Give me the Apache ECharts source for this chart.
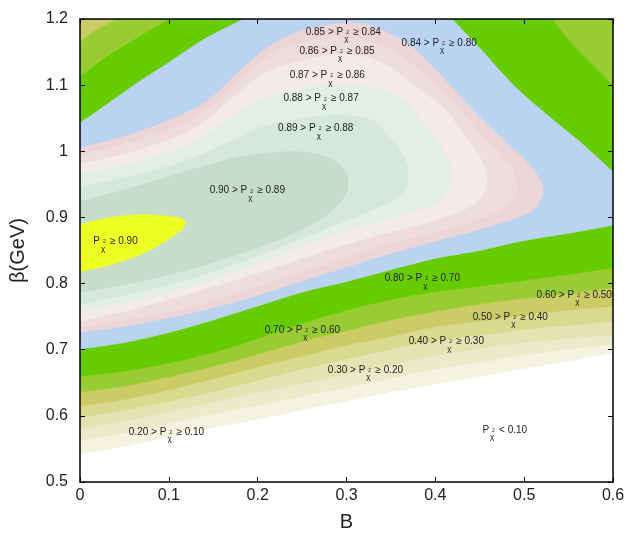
<!DOCTYPE html>
<html>
<head>
<meta charset="utf-8">
<script src="https://cdn.jsdelivr.net/npm/echarts@6/dist/echarts.min.js"></script>
<style>
html, body { margin: 0; background: #fff; }
#chart { width: 627px; height: 537px; }
</style>
</head>
<body>
<div id="chart"></div>
<script>
// contour levels of P(chi2) and the fill used for the band above each level
var levels = [0.10, 0.20, 0.30, 0.40, 0.50, 0.60, 0.70, 0.80, 0.84, 0.85, 0.86, 0.87, 0.88, 0.89, 0.90];
var bandColors = ['#f3f3e0', '#ebebcc', '#e3e3b4', '#d9d98f', '#cccc66', '#99cc33', '#66cc00', '#b9d3f1',
    '#ebd5d6', '#efdcdc', '#f4eaea', '#e3efe6', '#d6e8dc', '#c6ddc9', '#eeff22'];

// lower contours [B, beta]
var c10 = [[0,0.542],[0.05,0.554],[0.1,0.568],[0.15,0.582],[0.2,0.595],[0.25,0.609],[0.3,0.622],[0.35,0.636],[0.4,0.648],[0.45,0.660],[0.5,0.672],[0.55,0.683],[0.6,0.696]];
var c20 = [[0,0.562],[0.05,0.574],[0.1,0.588],[0.15,0.603],[0.2,0.616],[0.25,0.630],[0.3,0.643],[0.35,0.657],[0.4,0.671],[0.45,0.681],[0.5,0.692],[0.55,0.701],[0.6,0.708]];
var c30 = [[0,0.580],[0.05,0.592],[0.1,0.606],[0.15,0.621],[0.2,0.636],[0.25,0.649],[0.3,0.663],[0.35,0.677],[0.4,0.692],[0.45,0.702],[0.5,0.711],[0.55,0.717],[0.6,0.723]];
var c40 = [[0,0.598],[0.05,0.609],[0.1,0.622],[0.15,0.637],[0.2,0.654],[0.25,0.671],[0.3,0.686],[0.35,0.701],[0.4,0.714],[0.45,0.722],[0.5,0.731],[0.55,0.737],[0.6,0.743]];
var c50 = [[0,0.615],[0.05,0.625],[0.1,0.639],[0.15,0.656],[0.2,0.674],[0.25,0.690],[0.3,0.707],[0.35,0.720],[0.4,0.735],[0.45,0.743],[0.5,0.752],[0.55,0.760],[0.6,0.766]];
var c60 = [[0,0.636],[0.05,0.645],[0.1,0.659],[0.15,0.675],[0.2,0.693],[0.25,0.713],[0.3,0.729],[0.35,0.745],[0.4,0.758],[0.45,0.769],[0.5,0.778],[0.55,0.785],[0.6,0.794]];
var c70 = [[0,0.660],[0.05,0.668],[0.1,0.680],[0.15,0.696],[0.2,0.717],[0.25,0.740],[0.3,0.760],[0.35,0.776],[0.4,0.788],[0.45,0.796],[0.5,0.805],[0.55,0.814],[0.6,0.824]];
var c80 = [[0,0.701],[0.05,0.711],[0.1,0.726],[0.15,0.745],[0.2,0.766],[0.25,0.787],[0.3,0.803],[0.35,0.821],[0.4,0.838],[0.45,0.850],[0.5,0.865],[0.55,0.876],[0.6,0.888]];

// upper contours in the top corners
var u60 = [[0,1.165],[0.017,1.182],[0.043,1.2]];
var u70 = [[0,1.113],[0.034,1.146],[0.068,1.174],[0.101,1.2]];
var u80 = [[0,1.043],[0.026,1.067],[0.064,1.103],[0.101,1.135],[0.138,1.168],[0.184,1.2]];
var u70r = [[0.6,1.100],[0.574,1.135],[0.552,1.165],[0.531,1.2]];
var u80r = [[0.6,0.969],[0.563,1.014],[0.526,1.055],[0.488,1.100],[0.450,1.156],[0.419,1.2]];

// closed contours around the maximum (start and end on B = 0)
var c84 = [[0,1.005],[0.056,1.025],[0.113,1.054],[0.146,1.079],[0.169,1.108],[0.191,1.135],[0.214,1.159],[0.248,1.182],[0.281,1.191],[0.310,1.194],[0.338,1.185],[0.375,1.156],[0.413,1.105],[0.439,1.067],[0.469,1.027],[0.501,0.987],[0.518,0.957],[0.521,0.938],[0.514,0.916],[0.495,0.901],[0.450,0.882],[0.394,0.862],[0.338,0.841],[0.281,0.817],[0.225,0.793],[0.169,0.770],[0.113,0.752],[0.056,0.737],[0,0.726]];
var c85 = [[0,0.995],[0.056,1.013],[0.113,1.040],[0.146,1.066],[0.169,1.093],[0.206,1.138],[0.244,1.162],[0.293,1.171],[0.338,1.161],[0.375,1.131],[0.413,1.085],[0.450,1.028],[0.481,0.987],[0.492,0.953],[0.487,0.927],[0.469,0.907],[0.413,0.882],[0.338,0.856],[0.281,0.830],[0.225,0.806],[0.169,0.782],[0.113,0.761],[0.056,0.746],[0,0.734]];
var c86 = [[0,0.980],[0.056,0.998],[0.113,1.024],[0.146,1.051],[0.169,1.078],[0.206,1.116],[0.244,1.135],[0.293,1.147],[0.338,1.135],[0.377,1.099],[0.411,1.063],[0.430,1.028],[0.450,0.992],[0.458,0.957],[0.450,0.927],[0.424,0.907],[0.375,0.886],[0.338,0.874],[0.281,0.852],[0.225,0.827],[0.169,0.803],[0.113,0.781],[0.056,0.760],[0,0.743]];
var c87 = [[0,0.965],[0.056,0.981],[0.113,1.004],[0.146,1.028],[0.169,1.051],[0.206,1.079],[0.244,1.093],[0.293,1.103],[0.338,1.093],[0.366,1.075],[0.388,1.040],[0.409,1.002],[0.419,0.968],[0.413,0.938],[0.394,0.916],[0.371,0.906],[0.338,0.895],[0.281,0.871],[0.225,0.843],[0.169,0.815],[0.113,0.791],[0.056,0.772],[0,0.757]];
var c88 = [[0,0.947],[0.056,0.962],[0.113,0.983],[0.169,1.014],[0.206,1.037],[0.256,1.051],[0.301,1.054],[0.332,1.045],[0.351,1.017],[0.365,0.990],[0.369,0.968],[0.366,0.942],[0.349,0.922],[0.338,0.916],[0.281,0.885],[0.225,0.855],[0.169,0.827],[0.113,0.803],[0.056,0.784],[0,0.769]];
var c89 = [[0,0.924],[0.064,0.947],[0.138,0.977],[0.195,0.995],[0.251,0.999],[0.285,0.987],[0.299,0.969],[0.302,0.954],[0.299,0.935],[0.285,0.912],[0.259,0.888],[0.225,0.867],[0.169,0.840],[0.113,0.818],[0.056,0.800],[0,0.787]];
var c90 = [[0,0.889],[0.035,0.900],[0.073,0.904],[0.102,0.901],[0.116,0.897],[0.118,0.889],[0.110,0.877],[0.073,0.847],[0.035,0.829],[0,0.818]];

// band labels: upper bound, lower bound, where the text starts [B, beta]
var labelUpper = ['0.85', '0.86', '0.87', '0.88', '0.89', '0.84', '0.90', '', '0.80', '0.70', '0.60', '0.50', '0.40', '0.30', '0.20', '<'];
var labelLower = ['0.84', '0.85', '0.86', '0.87', '0.88', '0.80', '0.89', '0.90', '0.70', '0.60', '0.50', '0.40', '0.30', '0.20', '0.10', '0.10'];
var labelAt = [[0.254,1.179],[0.247,1.150],[0.236,1.113],[0.229,1.078],[0.223,1.033],[0.362,1.162],[0.146,0.939],[0.015,0.862],
    [0.343,0.806],[0.208,0.728],[0.514,0.781],[0.442,0.748],[0.370,0.711],[0.279,0.668],[0.055,0.574],[0.453,0.577]];

var TL = [0, 1.2], TR = [0.6, 1.2];
function rev(a) { return a.slice().reverse(); }

// superlevel regions P >= level, painted from the lowest level up
var regionPieces = [
    [c10, [TR, TL]],
    [c20, [TR, TL]],
    [c30, [TR, TL]],
    [c40, [TR, TL]],
    [c50, [TR, TL]],
    [c60, [TR], rev(u60)],
    [c70, u70r, rev(u70)],
    [c80, u80r, rev(u80)],
    [c84], [c85], [c86], [c87], [c88], [c89], [c90]
];

var font = '"Liberation Sans", Arial, Helvetica, sans-serif';

function piecePath(p, first) {
    var s = (first ? 'M' : 'L') + p[0][0] + ',' + p[0][1];
    for (var i = 0; i < p.length - 1; i++) {
        var a = p[i > 0 ? i - 1 : i], b = p[i], c = p[i + 1], d = p[i + 2 < p.length ? i + 2 : i + 1];
        s += 'C' + (b[0] + (c[0] - a[0]) / 6) + ',' + (b[1] + (c[1] - a[1]) / 6) + ','
            + (c[0] - (d[0] - b[0]) / 6) + ',' + (c[1] - (d[1] - b[1]) / 6) + ',' + c[0] + ',' + c[1];
    }
    return s;
}

function regionPath(pieces, api) {
    var d = '';
    pieces.forEach(function (pts, k) {
        d += piecePath(pts.map(function (v) { return api.coord(v); }), k === 0);
    });
    return d + 'Z';
}

function labelText(i) {
    var hi = labelUpper[i], lo = labelLower[i];
    if (hi === '') return '{t|P}{x|χ}{s|2}{t|≥ ' + lo + '}';
    if (hi === '<') return '{t|P}{x|χ}{s|2}{t|< ' + lo + '}';
    return '{t|' + hi + ' > P}{x|χ}{s|2}{t|≥ ' + lo + '}';
}

var myChart = echarts.init(document.getElementById('chart'));

var axisCommon = {
    type: 'value',
    z: 10,
    axisLine: { show: true, onZero: false, lineStyle: { color: '#000', width: 1.5 } },
    axisTick: { show: true, inside: true, length: 5, lineStyle: { color: '#000', width: 1 } },
    splitLine: { show: false }
};

var option = {
    animation: false,
    backgroundColor: '#fff',
    grid: { left: 80, right: 14, top: 19, bottom: 55, containLabel: false, outerBoundsMode: 'none' },
    xAxis: [
        echarts.util.merge({
            min: 0, max: 0.6, interval: 0.1, position: 'bottom',
            name: 'B', nameLocation: 'middle', nameGap: 30,
            nameTextStyle: { fontSize: 20, color: '#222', fontFamily: font },
            axisLabel: { fontSize: 16, color: '#222', fontFamily: font, margin: 6 }
        }, axisCommon, false),
        echarts.util.merge({
            min: 0, max: 0.6, interval: 0.1, position: 'top',
            axisLabel: { show: false }
        }, axisCommon, false)
    ],
    yAxis: [
        echarts.util.merge({
            min: 0.5, max: 1.2, interval: 0.1, position: 'left',
            name: 'β(GeV)', nameLocation: 'middle', nameGap: 52,
            nameTextStyle: { fontSize: 20, color: '#222', fontFamily: font },
            axisLabel: { fontSize: 16, color: '#222', fontFamily: font, margin: 12 }
        }, axisCommon, false),
        echarts.util.merge({
            min: 0.5, max: 1.2, interval: 0.1, position: 'right',
            axisLabel: { show: false }
        }, axisCommon, false)
    ],
    series: [
        {
            type: 'custom',
            clip: true,
            silent: true,
            data: regionPieces.map(function (r, i) { return [0.3, 0.85, levels[i]]; }),
            renderItem: function (params, api) {
                var col = bandColors[params.dataIndex];
                return {
                    type: 'path',
                    shape: { pathData: regionPath(regionPieces[params.dataIndex], api) },
                    style: { fill: col, stroke: col, lineWidth: 0.6 }
                };
            }
        },
        {
            type: 'custom',
            silent: true,
            z: 5,
            data: labelAt,
            renderItem: function (params, api) {
                var p = api.coord(labelAt[params.dataIndex]);
                return {
                    type: 'text',
                    x: p[0],
                    y: p[1] - 6,
                    style: {
                        text: labelText(params.dataIndex),
                        align: 'left',
                        verticalAlign: 'top',
                        fill: '#222',
                        fontFamily: font,
                        rich: {
                            t: { fontSize: 10, fontFamily: font, fill: '#222', lineHeight: 12, verticalAlign: 'top' },
                            x: { fontSize: 8, fontFamily: font, fill: '#222', lineHeight: 10, padding: [8, 0, 0, 1], width: 0, verticalAlign: 'top' },
                            s: { fontSize: 5, fontFamily: font, fill: '#222', lineHeight: 6, padding: [3, 0, 0, 2], width: 7, verticalAlign: 'top' }
                        }
                    }
                };
            }
        }
    ]
};
myChart.setOption(option);
</script>
</body>
</html>
